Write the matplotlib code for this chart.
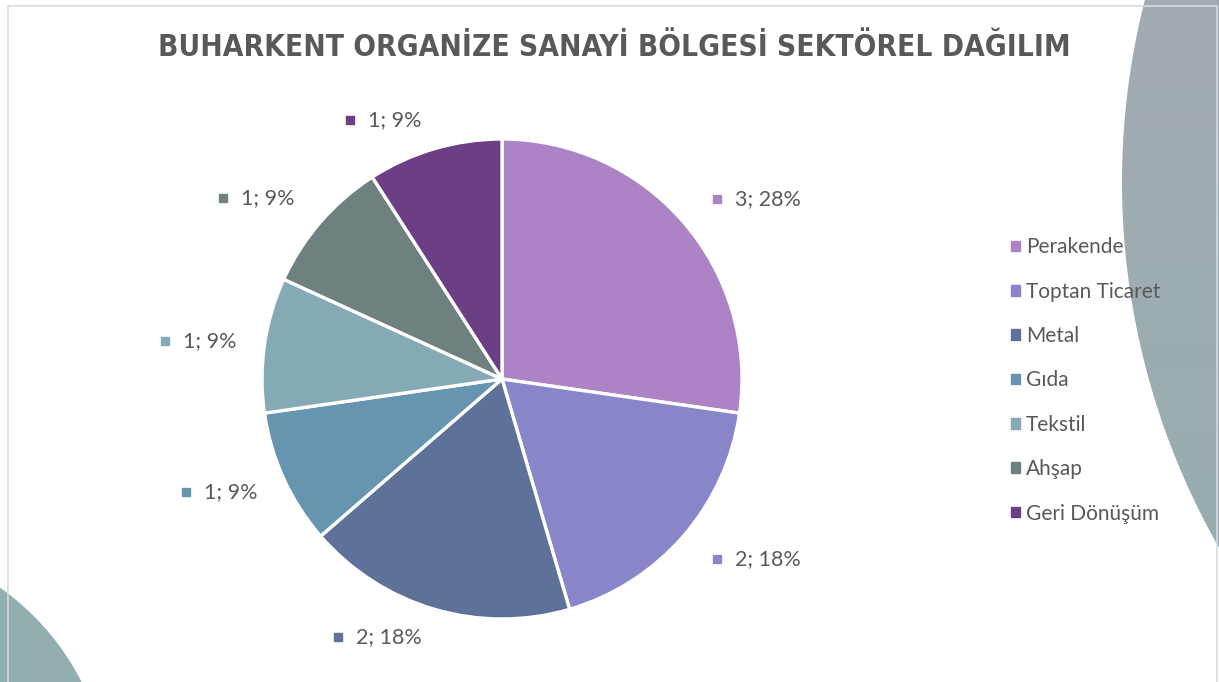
import matplotlib
matplotlib.use("Agg")
import matplotlib.pyplot as plt
import matplotlib.patches as mpatches
import numpy as np
from matplotlib.colors import LinearSegmentedColormap

W, H = 1219, 682

# data
sectors = ["Perakende", "Toptan Ticaret", "Metal", "Gıda", "Tekstil", "Ahşap", "Geri Dönüşüm"]
counts = [3, 2, 2, 1, 1, 1, 1]
percents = [28, 18, 18, 9, 9, 9, 9]
colors = ["#AC84C6", "#8886C8", "#5E7199", "#6795AF", "#84ABB5", "#6F8080", "#6B3E86"]

TITLE = "BUHARKENT ORGANİZE SANAYİ BÖLGESİ SEKTÖREL DAĞILIM"
TXT = "#595959"

# layout (pixels, origin top-left)
PIE_CENTER = (502, 379)
PIE_RADIUS = 240
LABEL_POS = [(717, 199), (717, 559), (338, 637), (186, 492), (165, 341), (223, 198), (350, 120)]


def py(y):
    return H - y


fig = plt.figure(figsize=(W / 100, H / 100), dpi=100)
ax = fig.add_axes([0, 0, 1, 1])

# decorative background circles
big = mpatches.Circle((1860, py(182)), 738, facecolor="none", edgecolor="none")
ax.add_patch(big)
cmap = LinearSegmentedColormap.from_list("bg", ["#A4ABB3", "#97AEAE"])
grad = np.linspace(0, 1, 256).reshape(-1, 1)
im = ax.imshow(grad, cmap=cmap, extent=(1100, W, py(560), py(0)),
               aspect="auto", zorder=0)
im.set_clip_path(big)
ax.add_patch(mpatches.Circle((-150, py(800)), 260, facecolor="#92AEAF",
                             edgecolor="none", zorder=0))

# chart frame
ax.add_patch(mpatches.Rectangle((8, py(700)), 1209, 694, facecolor="none",
                                edgecolor="#D9D9D9", linewidth=1.2, zorder=5))

# pie
ax.pie(counts, colors=colors, startangle=90, counterclock=False,
       center=(PIE_CENTER[0], py(PIE_CENTER[1])), radius=PIE_RADIUS,
       wedgeprops=dict(edgecolor="white", linewidth=2.4), frame=True)
ax.set_xlim(0, W)
ax.set_ylim(0, H)
ax.set_aspect("equal")
ax.axis("off")

# data labels
for (mx, my), c, n, p in zip(LABEL_POS, colors, counts, percents):
    ax.plot(mx, py(my), "s", color=c, markersize=6, zorder=6)
    ax.text(mx + 18, py(my), f"{n}; {p}%", color=TXT, fontsize=15.5,
            family="Lato", va="center", ha="left", zorder=6)

# title
ax.text(614, py(48), TITLE, color=TXT, fontsize=21.4, fontweight="bold",
        family="DejaVu Sans", fontstretch="condensed", ha="center", va="center")

# legend
handles = [mpatches.Patch(color=c, label=s) for c, s in zip(colors, sectors)]
leg = fig.legend(handles=handles, loc="upper left",
                 bbox_to_anchor=(1003 / W, 1 - 229 / H), frameon=False,
                 handlelength=0.4, handleheight=0.4, handletextpad=0.3,
                 labelspacing=1.17, borderaxespad=0,
                 prop=dict(family="Lato", size=15))
for t in leg.get_texts():
    t.set_color(TXT)

fig.savefig("out.png", dpi=100)
